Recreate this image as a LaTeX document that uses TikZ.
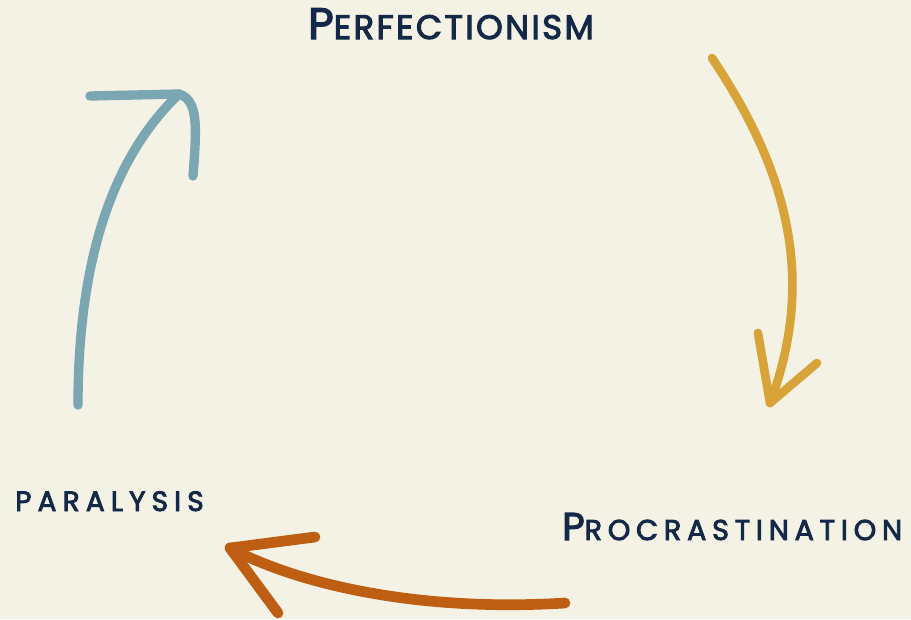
\documentclass[tikz,border=0pt]{standalone}
\usepackage{fontspec}
\setmainfont{Poppins}[FakeBold=3]
\definecolor{nen}{HTML}{F4F1E5}
\definecolor{chu}{HTML}{142848}
\definecolor{xanh}{HTML}{7BA7B2}
\definecolor{vang}{HTML}{D8A43A}
\definecolor{cam}{HTML}{BE5E12}
% #1 co chu lon, #2 co chu nho, #3 gian chu
\newcommand\capsmall[5]{{\addfontfeatures{LetterSpace=#3}%
    {\fontsize{#1}{#1}\selectfont #4}{\fontsize{#2}{#2}\selectfont #5}}}
\begin{document}
\begin{tikzpicture}[x=.75pt,y=-.75pt,
    nhan/.style={anchor=base west,inner sep=0pt,text=chu},
    muiten/.style={line width=#1,line cap=round,line join=round}]
    \fill[nen] (0,0) rectangle (911,619);
    \useasboundingbox (0,0) rectangle (911,619);
    % ba nhan
    \path
    (308,39) node[nhan] (perf) {\capsmall{33pt}{25.5pt}{7}{P}{ERFECTIONISM}}
    (562,540) node[nhan] (proc) {\capsmall{29pt}{21.5pt}{20}{P}{ROCRASTINATION}}
    (15,511) node[nhan] (para) {\capsmall{21pt}{21pt}{22}{}{PARALYSIS}};
    % cac diem dau, cuoi
    \coordinate (v1) at (712,58);   \coordinate (v2) at (770,403);
    \coordinate (c1) at (565,603);  \coordinate (c2) at (230,548);
    \coordinate (x1) at (78,405);   \coordinate (x2) at (179,94);
    % mui ten vang
    \draw[vang,muiten=6.5pt] (v1) .. controls (780,160) and (820,270) .. (v2);
    \draw[vang,muiten=6.5pt] (758,333) -- (v2) -- (817,363);
    % mui ten cam
    \draw[cam,muiten=8pt] (c1) .. controls (420,612) and (300,585) .. (c2);
    \draw[cam,muiten=8pt] (315,537) -- (c2) -- (278,613);
    % mui ten xanh
    \draw[xanh,muiten=7pt] (x1) .. controls (78,255) and (115,155) .. (x2);
    \draw[xanh,muiten=7pt] (90,96) -- (x2) .. controls (198,100) and (197,125) .. (193,176);
\end{tikzpicture}
\end{document}
